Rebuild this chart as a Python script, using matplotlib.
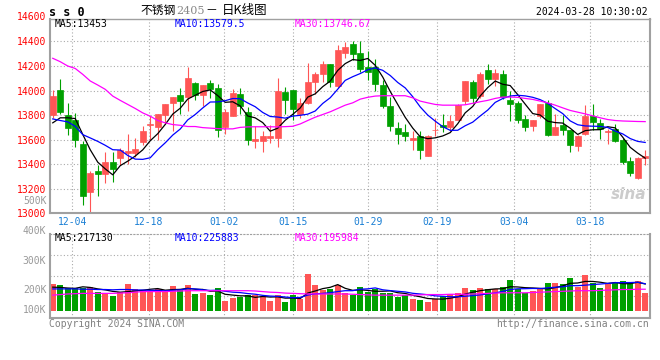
import matplotlib
matplotlib.use("Agg")
import matplotlib.pyplot as plt
import numpy as np
import pandas as pd

# ss0 daily bars, 2023-11-30 .. 2024-03-28 (80 sessions)
opens = [13797, 14001, 13797, 13764, 13567, 13177, 13346, 13319, 13420, 13447,
         13494, 13491, 13578, 13717, 13701, 13797, 13895, 13960, 13947, 14059,
         13960, 14064, 14018, 13701, 13795, 13974, 13827, 13592, 13592, 13614,
         13614, 13990, 14001, 13813, 13900, 14070, 14132, 14214, 14037, 14304,
         14378, 14310, 14193, 14195, 14045, 13873, 13696, 13660, 13597, 13633,
         13464, 13677, 13723, 13701, 13758, 13914, 14072, 13955, 14165, 14091,
         14132, 13922, 13900, 13772, 13709, 13791, 13895, 13636, 13723, 13682,
         13545, 13649, 13791, 13737, 13663, 13687, 13600, 13423, 13286, 13450]
highs = [14001, 14092, 13895, 13818, 13586, 13346, 13395, 13502, 13502, 13532,
         13649, 13614, 13715, 13791, 13813, 13887, 13947, 14023, 14190, 14072,
         14042, 14083, 14051, 13846, 14010, 14018, 13865, 13709, 13674, 13723,
         14105, 14031, 14001, 13936, 14228, 14154, 14242, 14220, 14370, 14395,
         14400, 14400, 14324, 14255, 14083, 13950, 13745, 13728, 13668, 13674,
         13641, 13778, 13805, 13797, 13887, 14078, 14086, 14152, 14214, 14173,
         14165, 13996, 13919, 13799, 13764, 13892, 13922, 13810, 13797, 13682,
         13641, 13881, 13887, 13769, 13688, 13728, 13614, 13455, 13455, 13518]
lows = [13777, 13813, 13636, 13537, 13068, 13005, 13144, 13243, 13259, 13395,
        13403, 13455, 13559, 13600, 13600, 13728, 13674, 13810, 13832, 13925,
        13873, 13941, 13622, 13647, 13795, 13806, 13559, 13532, 13499, 13573,
        13537, 13813, 13764, 13778, 13887, 13969, 14072, 14029, 14023, 14269,
        14250, 14152, 14086, 13996, 13854, 13668, 13565, 13592, 13518, 13445,
        13464, 13627, 13663, 13668, 13758, 13887, 13895, 13941, 14051, 14037,
        13928, 13755, 13737, 13674, 13674, 13778, 13627, 13636, 13641, 13496,
        13510, 13636, 13677, 13608, 13565, 13581, 13403, 13300, 13278, 13390]
closes = [13952, 13824, 13693, 13600, 13144, 13327, 13319, 13420, 13357, 13518,
          13510, 13526, 13674, 13728, 13805, 13887, 13947, 13914, 14100, 13960,
          14042, 14010, 13682, 13827, 13982, 13873, 13600, 13606, 13633, 13633,
          13996, 13922, 13846, 13895, 14072, 14132, 14214, 14072, 14329, 14351,
          14296, 14179, 14152, 14051, 13873, 13709, 13649, 13627, 13614, 13518,
          13633, 13682, 13704, 13750, 13879, 14078, 13941, 14132, 14091, 14146,
          13947, 13887, 13764, 13701, 13764, 13887, 13636, 13707, 13682, 13554,
          13633, 13791, 13742, 13687, 13674, 13586, 13414, 13327, 13450, 13469]
volumes = [220500, 217000, 206000, 206000, 206000, 210000, 192500, 189000, 181000, 192500,
           220000, 204000, 200000, 198000, 204000, 192500, 214000, 204000, 217000, 187000,
           190000, 183000, 207000, 163000, 173000, 178000, 182000, 182000, 178000, 163000,
           182000, 160000, 183000, 171000, 254000, 217000, 200000, 205000, 217000, 191000,
           183000, 209000, 195000, 203000, 191000, 189000, 178000, 183000, 171000, 167000,
           160000, 170000, 180000, 187000, 190000, 207000, 200000, 207000, 203000, 203000,
           210000, 234000, 203000, 191000, 198000, 203000, 225000, 225000, 220000, 241000,
           209000, 251000, 225000, 207000, 220000, 225000, 231000, 225000, 231000, 191000]

# moving averages where the earlier sessions are off-chart
ma5_head = [13737, 13778, 13778, 13772]
ma10_head = [13769, 13756, 13745, 13709, 13641, 13614, 13586, 13554, 13518]
ma30 = [14263, 14235, 14200, 14180, 14132, 14078, 14045, 14010, 13955, 13920,
        13887, 13854, 13818, 13791, 13756, 13737, 13723, 13717, 13707, 13707,
        13698, 13694, 13690, 13688, 13688, 13700, 13704, 13705, 13705, 13705,
        13704, 13706, 13709, 13728, 13756, 13783, 13805, 13827, 13854, 13881,
        13900, 13930, 13945, 13955, 13958, 13958, 13958, 13958, 13941, 13914,
        13900, 13887, 13881, 13881, 13881, 13884, 13896, 13909, 13920, 13936,
        13947, 13947, 13945, 13936, 13928, 13914, 13900, 13881, 13859, 13838,
        13824, 13810, 13794, 13778, 13764, 13756, 13752, 13750, 13748, 13747]
vol_ma5_head = [210000, 209000, 207000, 206000]
vol_ma10_head = [204000, 204000, 204000, 204000, 203000, 203000, 202000, 202000, 201000]
vol_ma30 = [183000, 185000, 187000, 188000, 189000, 189000, 189000, 189000, 189000, 190000,
            191000, 193000, 195000, 195000, 195000, 195000, 196000, 197000, 198000, 198000,
            198000, 198000, 198000, 198000, 198000, 198000, 198000, 197000, 195000, 193000,
            192000, 190000, 189000, 188000, 187000, 187000, 187000, 187000, 187000, 187000,
            186000, 185000, 184000, 183000, 183000, 183000, 183000, 183000, 183000, 184000,
            185000, 185000, 185000, 186000, 186000, 186000, 187000, 188000, 189000, 190000,
            191000, 191000, 191000, 191000, 192000, 193000, 194000, 195000, 196000, 197000,
            198000, 198000, 198000, 199000, 200000, 201000, 202000, 202000, 203000, 203000]

date_labels = ["12-04", "12-18", "01-02", "01-15", "01-29", "02-19", "03-04", "03-18"]
price_ticks = [13000, 13200, 13400, 13600, 13800, 14000, 14200, 14400]
price_labels = ["13000", "13200", "13400", "13600", "13800", "14000", "14200", "14400"]
vol_labels = ["500K", "400K", "300K", "200K", "100K"]
ma_texts = ["MA5:13453", "MA10:13579.5", "MA30:13746.67"]
vol_ma_texts = ["MA5:217130", "MA10:225883", "MA30:195984"]

# layout / style
W, H = 660, 360
UP, DOWN = "#ff5555", "#00a000"
MA_COLORS = ["black", "#0000ff", "#ff00ff"]
GRID = "#aaaaaa"
SPINE = "#a0a0a0"
DOTS = (0, (1, 2))
MONO = "DejaVu Sans Mono"
CJK = ["Noto Sans CJK SC", "DejaVu Sans"]
tick_pos = [2.6, 12.8, 22.9, 32.1, 42.1, 51.3, 61.5, 71.6]
vol_label_pos = [1.40, 1.043, 0.686, 0.337, 0.099]
VOL_BASE = 130600

plt.rcParams["font.family"] = [MONO]


def with_head(values, window, head):
    s = pd.Series(values, dtype=float).rolling(window).mean()
    s.iloc[:len(head)] = head
    return s.to_numpy()


def style_axes(ax):
    for side, sp in ax.spines.items():
        sp.set_color(SPINE)
        sp.set_linewidth(1.0 if side == "top" else 1.5)
    ax.grid(True, color=GRID, linestyle=DOTS, linewidth=0.8)
    ax.set_axisbelow(True)


fig = plt.figure(figsize=(W / 100, H / 100), dpi=100, facecolor="white")
ax = fig.add_axes([50.5 / W, 1 - 213.3 / H, 599.2 / W, 194.3 / H])
axv = fig.add_axes([50.5 / W, 1 - 318.3 / H, 599.2 / W, 84 / H])

x = np.arange(len(closes))
o = np.array(opens, float)
c = np.array(closes, float)
colors = np.where(c >= o, UP, DOWN)

# candles
ax.vlines(x, lows, highs, colors=colors, linewidth=0.8, zorder=2)
ax.bar(x, np.abs(c - o), bottom=np.minimum(o, c), width=0.8,
       color=colors, edgecolor=colors, linewidth=0.5, zorder=3)
price_ma = [with_head(closes, 5, ma5_head), with_head(closes, 10, ma10_head),
            np.array(ma30, float)]
for line, col in zip(price_ma, MA_COLORS):
    ax.plot(x, line, color=col, linewidth=0.9, zorder=4)

ax.set_xlim(-0.3, 79.6)
ax.set_ylim(13000, 14583)
style_axes(ax)
ax.set_yticks(price_ticks, price_labels)
ax.set_xticks(tick_pos, date_labels)
ax.tick_params(axis="y", length=0, pad=3, labelsize=7, labelcolor="red")
ax.tick_params(axis="x", length=0, pad=3, labelsize=7, labelcolor="#1a7fd4")
ax.annotate("14600", xy=(0, 14600), xycoords=ax.get_yaxis_transform(),
            xytext=(-3, 0), textcoords="offset points", ha="right",
            va="center", fontsize=7, color="red", annotation_clip=False)

for txt, col, px in zip(ma_texts, MA_COLORS, [55, 175, 295]):
    ax.text((px - 50.5) / 599.2, 0.974, txt, transform=ax.transAxes,
            ha="left", va="center", fontsize=7, color=col)
ax.text(0.995, 0.06, "sina", transform=ax.transAxes, ha="right", va="bottom",
        fontsize=11, fontweight="bold", fontstyle="italic", color="#cccccc",
        family="DejaVu Sans", zorder=1)

# volume
axv.bar(x, np.array(volumes, float) - VOL_BASE, bottom=VOL_BASE, width=0.85,
        color=colors, linewidth=0, zorder=2)
vol_ma = [with_head(volumes, 5, vol_ma5_head), with_head(volumes, 10, vol_ma10_head),
          np.array(vol_ma30, float)]
for line, col in zip(vol_ma, MA_COLORS):
    axv.plot(x, line, color=col, linewidth=0.9, zorder=4)

axv.set_xlim(-0.3, 79.6)
vlo, vhi = 105100, 387900
axv.set_ylim(vlo, vhi)
style_axes(axv)
axv.spines["top"].set_linestyle(DOTS)
axv.spines["top"].set_linewidth(0.8)
axv.set_xticks(tick_pos, [])
axv.set_yticks(vlo + np.array([0.269, 0.507, 0.754]) * (vhi - vlo), [])
axv.tick_params(length=0)
for txt, fy in zip(vol_labels, vol_label_pos):
    axv.annotate(txt, xy=(0, fy), xycoords="axes fraction", xytext=(-3, 0),
                 textcoords="offset points", ha="right", va="center",
                 fontsize=7, color="#999999", annotation_clip=False)
for txt, col, px in zip(vol_ma_texts, MA_COLORS, [55, 175, 295]):
    axv.text((px - 50.5) / 599.2, 0.952, txt, transform=axv.transAxes,
             ha="left", va="center", fontsize=7, color=col)

# header and footer
fig.text(49 / W, 1 - 12 / H, "s s 0", ha="left", va="center", fontsize=8.5,
         fontweight="bold")
fig.text(140 / W, 1 - 10.5 / H, "不锈钢", ha="left", va="center", fontsize=8.5,
         family=CJK)
fig.text(176 / W, 1 - 11 / H, "2405", ha="left", va="center", fontsize=8,
         color="#888888", family="DejaVu Serif")
fig.text(205 / W, 1 - 10.5 / H, "－", ha="left", va="center", fontsize=8.5,
         family=CJK)
fig.text(222 / W, 1 - 10.5 / H, "日K线图", ha="left", va="center", fontsize=9,
         family=CJK)
fig.text(648 / W, 1 - 12 / H, "2024-03-28 10:30:02", ha="right", va="center",
         fontsize=7)
fig.text(49 / W, 1 - 324 / H, "Copyright 2024 SINA.COM", ha="left",
         va="center", fontsize=7, color="#808080")
fig.text(649 / W, 1 - 324 / H, "http://finance.sina.com.cn", ha="right",
         va="center", fontsize=7, color="#808080")

fig.savefig("out.png", dpi=100, facecolor="white")
